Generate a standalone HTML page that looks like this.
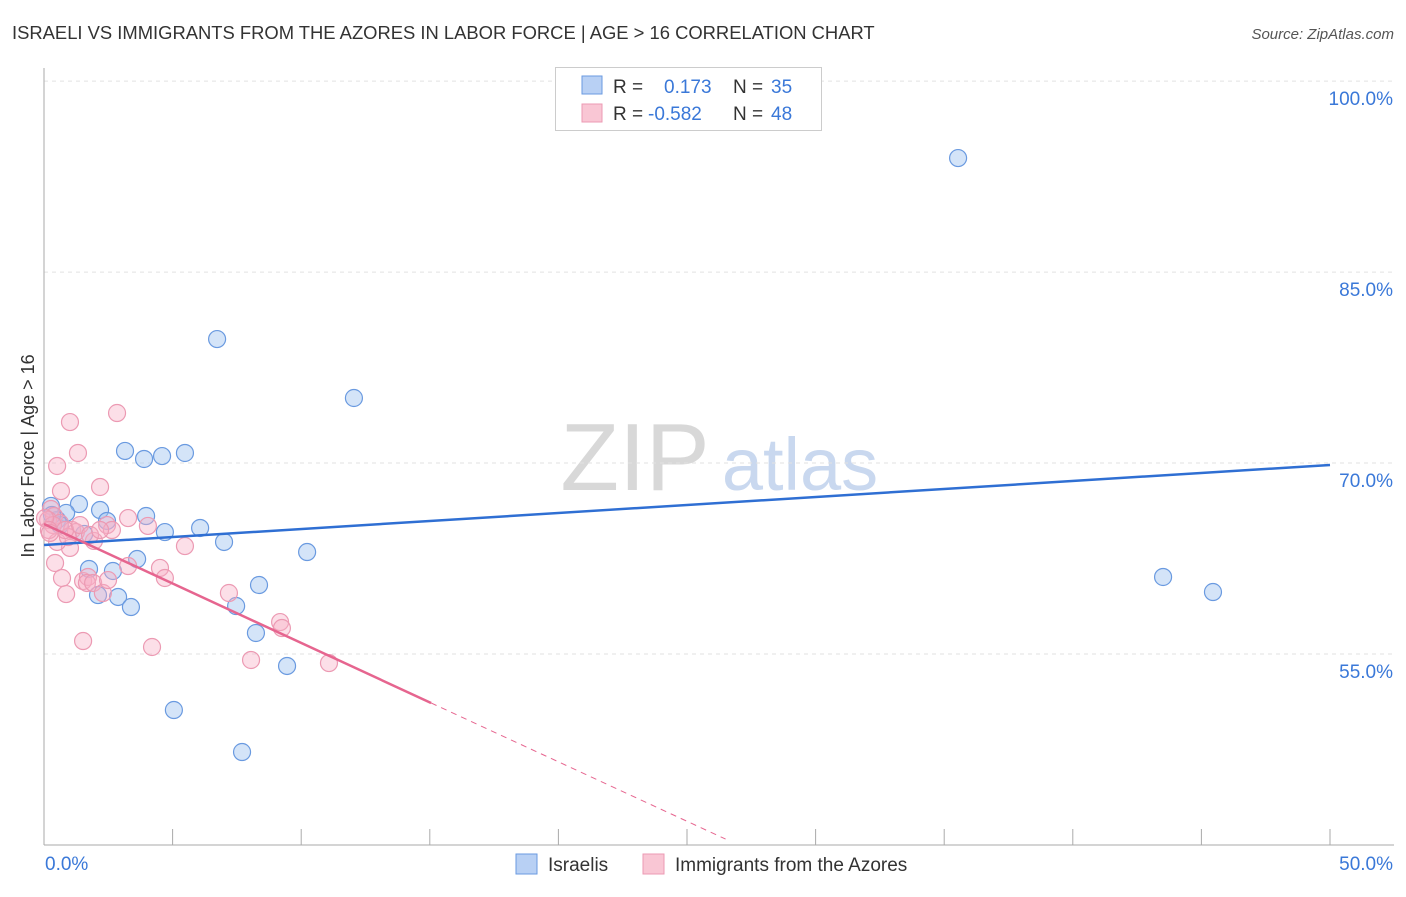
<!DOCTYPE html>
<html><head><meta charset="utf-8"><style>
body{margin:0;background:#fff;font-family:"Liberation Sans",sans-serif}
svg text{font-family:"Liberation Sans",sans-serif}
</style></head><body>
<svg id="chart" width="1406" height="892" xmlns="http://www.w3.org/2000/svg">
<text x="12" y="39" font-size="18.4" fill="#333">ISRAELI VS IMMIGRANTS FROM THE AZORES IN LABOR FORCE | AGE &gt; 16 CORRELATION CHART</text>
<text x="1394" y="39" font-size="15" fill="#555" text-anchor="end" font-style="italic">Source: ZipAtlas.com</text>
<text transform="translate(34,456) rotate(-90)" font-size="18" fill="#333" text-anchor="middle">In Labor Force | Age &gt; 16</text>
<g>
<text x="635" y="490" font-size="96" fill="#d8d8d8" font-family="Liberation Serif,serif" text-anchor="middle">ZIP</text>
<text x="800" y="490" font-size="74" fill="#c9d8ef" text-anchor="middle">atlas</text>
</g>
<g id="grid"></g>
<g id="axes"></g>
<g id="marks"></g>
<g>
<rect x="555.5" y="67.5" width="266" height="63" fill="#fff" stroke="#ccc"/>
<rect x="582" y="76" width="20" height="18" fill="#b8d0f4" stroke="#6a9ae0"/>
<rect x="582" y="104" width="20" height="18" fill="#f9c6d4" stroke="#ec9ab3"/>
<text x="613" y="93" font-size="19" fill="#333">R =</text>
<text x="664" y="93" font-size="19" fill="#3a78d8">0.173</text>
<text x="733" y="93" font-size="19" fill="#333">N =</text>
<text x="771" y="93" font-size="19" fill="#3a78d8">35</text>
<text x="613" y="120" font-size="19" fill="#333">R =</text>
<text x="648" y="120" font-size="19" fill="#3a78d8">-0.582</text>
<text x="733" y="120" font-size="19" fill="#333">N =</text>
<text x="771" y="120" font-size="19" fill="#3a78d8">48</text>
</g>
<g>
<rect x="516" y="854" width="21" height="20" fill="#b8d0f4" stroke="#6a9ae0"/>
<text x="548" y="871" font-size="19" fill="#333">Israelis</text>
<rect x="643" y="854" width="21" height="20" fill="#f9c6d4" stroke="#ec9ab3"/>
<text x="675" y="871" font-size="19" fill="#333">Immigrants from the Azores</text>
</g>
</svg>
<script>
const blueX=[35.54,6.73,12.05,3.15,3.89,4.59,5.48,0.27,1.36,0.86,2.18,3.97,4.70,6.07,7.00,2.45,1.56,0.51,0.62,3.62,10.23,2.68,1.75,2.10,2.88,3.38,8.36,7.47,8.24,9.45,5.05,7.70,43.51,45.45,0.31];
const blueY=[93.96,79.74,75.11,70.95,70.32,70.55,70.79,66.63,66.78,66.08,66.31,65.84,64.58,64.90,63.80,65.45,64.43,65.53,65.13,62.46,63.01,61.52,61.68,59.63,59.48,58.69,60.42,58.77,56.65,54.06,50.60,47.30,61.05,59.87,65.92];
const pinkX=[2.84,1.01,1.32,0.51,0.66,2.18,0.27,0.39,0.16,0.62,1.09,1.24,2.45,2.64,1.94,1.01,0.51,0.93,3.27,4.04,5.48,0.43,0.70,0.86,1.52,1.71,1.67,1.91,2.29,2.49,3.27,4.51,4.70,7.19,9.18,9.25,8.05,11.08,1.52,4.20,0.35,0.04,0.19,0.82,1.40,1.79,2.18,0.23];
const pinkY=[73.93,73.22,70.79,69.77,67.80,68.12,66.39,65.84,65.53,65.29,64.74,64.58,65.13,64.74,63.88,63.33,63.80,64.19,65.68,65.06,63.48,62.15,60.97,59.71,60.73,61.05,60.58,60.58,59.79,60.81,61.91,61.76,60.97,59.79,57.51,57.04,54.53,54.29,56.02,55.55,65.13,65.68,64.74,64.74,65.13,64.35,64.74,64.51];
const yTicks=[100,85,70,55];
const yTickLabels=["100.0%","85.0%","70.0%","55.0%"];
const xTicks=[0,5,10,15,20,25,30,35,40,45,50];
const xEndLabels=["0.0%","50.0%"];
const blueTrend=[63.56,69.85];
const pinkTrend=[65.21,-0.934];
const pinkSolidEnd=15.05, pinkDashEnd=26.5;

const NS="http://www.w3.org/2000/svg";
const X=v=>44+v*25.72;
const Y=v=>654-(v-55)*12.73;
function mk(tag,attrs,parent){const e=document.createElementNS(NS,tag);for(const k in attrs)e.setAttribute(k,attrs[k]);document.getElementById(parent).appendChild(e);return e;}

yTicks.forEach((t,i)=>{
 const g=mk('line',{x1:44,x2:1394,y1:Y(t),y2:Y(t),stroke:'#e2e2e2','stroke-dasharray':'4,4'},'grid');
 
 
 const l=mk('text',{x:1393,y:Y(t)+24,'font-size':19,fill:'#3a78d8','text-anchor':'end'},'grid');
 l.textContent=yTickLabels[i];
 
 
});
const ax=mk('line',{x1:44,x2:44,y1:68,y2:845,stroke:'#aaa'},'axes');


const bx=mk('line',{x1:44,x2:1394,y1:845,y2:845,stroke:'#aaa'},'axes');


xTicks.forEach(t=>{
 const k=mk('line',{x1:X(t),x2:X(t),y1:829,y2:845,stroke:'#aaa'},'axes');
 
 
});
const xl0=mk('text',{x:45,y:870,'font-size':19,fill:'#3a78d8'},'axes');xl0.textContent=xEndLabels[0];


const xl1=mk('text',{x:1393,y:870,'font-size':19,fill:'#3a78d8','text-anchor':'end'},'axes');xl1.textContent=xEndLabels[1];



blueX.forEach((x,i)=>{
 const c=mk('circle',{cx:X(x),cy:Y(blueY[i]),r:8.5,fill:'rgba(160,195,240,0.45)',stroke:'#6a9ae0','stroke-width':1.2},'marks');
 
 
});
pinkX.forEach((x,i)=>{
 const c=mk('circle',{cx:X(x),cy:Y(pinkY[i]),r:8.5,fill:'rgba(248,175,198,0.4)',stroke:'#ec9ab3','stroke-width':1.2},'marks');
 
 
});
const bt=mk('line',{x1:X(0),y1:Y(blueTrend[0]),x2:X(50),y2:Y(blueTrend[1]),stroke:'#2f6fd3','stroke-width':2.5},'marks');


const pv=x=>pinkTrend[0]+pinkTrend[1]*x;
const pt=mk('line',{x1:X(0),y1:Y(pv(0)),x2:X(pinkSolidEnd),y2:Y(pv(pinkSolidEnd)),stroke:'#e6658f','stroke-width':2.5},'marks');


const pd=mk('line',{x1:X(pinkSolidEnd),y1:Y(pv(pinkSolidEnd)),x2:X(pinkDashEnd),y2:Y(pv(pinkDashEnd)),stroke:'#e6658f','stroke-width':1,'stroke-dasharray':'6,5'},'marks');


</script>
</body></html>
